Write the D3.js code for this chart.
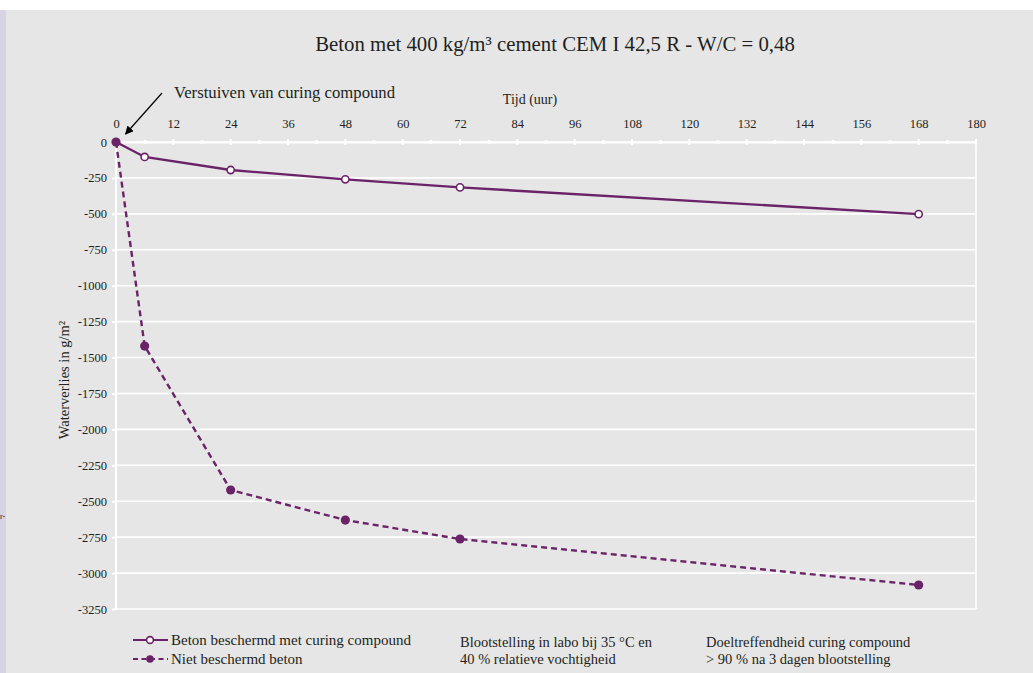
<!DOCTYPE html>
<html>
<head>
<meta charset="utf-8">
<script src="https://cdn.jsdelivr.net/npm/d3@7"></script>
<style>
  html, body { margin: 0; padding: 0; background: #ffffff; }
  svg { display: block; }
  text { font-family: "Liberation Serif", "DejaVu Serif", serif; fill: #231f20; }
</style>
</head>
<body>
<svg id="chart" width="1033" height="673"></svg>
<script>
// Hours after casting
const hours = [0, 6, 24, 48, 72, 168];
// Water loss (g/m²) — concrete protected with curing compound
const protectedLoss = [0, -104, -195, -260, -316, -502];
// Water loss (g/m²) — unprotected concrete
const unprotectedLoss = [0, -1420, -2422, -2631, -2763, -3083];

const xTicks = d3.range(0, 181, 12);
const xMinorTicks = d3.range(0, 181, 6);
const yTicks = d3.range(0, -3251, -250);

const titleText = "Beton met 400 kg/m³ cement CEM I 42,5 R - W/C = 0,48";
const xLabel = "Tijd (uur)";
const yLabel = "Waterverlies in g/m²";
const annotation = "Verstuiven van curing compound";
const seriesNames = ["Beton beschermd met curing compound", "Niet beschermd beton"];
const noteA = ["Blootstelling in labo bij 35 °C en", "40 % relatieve vochtigheid"];
const noteB = ["Doeltreffendheid curing compound", "> 90 % na 3 dagen blootstelling"];

const purple = "#6b2368";
const svg = d3.select("#chart");

// Page background: white top band, lavender edge strip, grey panel
svg.append("rect").attr("x", 0).attr("y", 10).attr("width", 1033).attr("height", 663).attr("fill", "#e6e6e6");
svg.append("rect").attr("x", 0).attr("y", 10).attr("width", 6).attr("height", 663).attr("fill", "#d8d3e4");
svg.append("text").attr("x", 0).attr("y", 519).attr("font-size", 8).text("r-");

const x = d3.scaleLinear().domain([0, 180]).range([116, 976]);
const y = d3.scaleLinear().domain([0, -3250]).range([142, 609]);

// Horizontal gridlines
svg.append("g").selectAll("line").data(yTicks).join("line")
  .attr("x1", x(0)).attr("x2", x(180))
  .attr("y1", d => y(d)).attr("y2", d => y(d))
  .attr("stroke", "#ffffff").attr("stroke-width", 1.6);

// Frame: left axis and right border
svg.append("line").attr("x1", x(0)).attr("x2", x(0)).attr("y1", y(0)).attr("y2", y(-3250))
  .attr("stroke", "#ffffff").attr("stroke-width", 2);
svg.append("line").attr("x1", x(180)).attr("x2", x(180)).attr("y1", y(0)).attr("y2", y(-3250))
  .attr("stroke", "#ffffff").attr("stroke-width", 1.6);

const plainNum = d => String(d);

// Top time axis
const xAxis = d3.axisTop(x).tickValues(xTicks).tickSize(0).tickPadding(14).tickFormat(plainNum);
const gx = svg.append("g").attr("transform", `translate(0,${y(0)})`).call(xAxis);
gx.select(".domain").attr("stroke", "#ffffff").attr("stroke-width", 2.2);
gx.selectAll("text").attr("font-size", 12.5).attr("fill", "#231f20")
  .attr("font-family", "Liberation Serif, serif");
svg.append("g").selectAll("line").data(xMinorTicks).join("line")
  .attr("x1", d => x(d)).attr("x2", d => x(d))
  .attr("y1", d => y(0) - (d % 12 === 0 ? 3 : 2)).attr("y2", d => y(0) + (d % 12 === 0 ? 3 : 2))
  .attr("stroke", "#ffffff").attr("stroke-width", 2);

// Left value axis
const yAxis = d3.axisLeft(y).tickValues(yTicks).tickSize(4).tickPadding(5).tickFormat(plainNum);
const gy = svg.append("g").attr("transform", `translate(${x(0)},0)`).call(yAxis);
gy.select(".domain").remove();
gy.selectAll(".tick line").attr("stroke", "#ffffff").attr("stroke-width", 2);
gy.selectAll("text").attr("font-size", 12.5).attr("fill", "#231f20")
  .attr("font-family", "Liberation Serif, serif");

// Titles and axis labels
svg.append("text").attr("x", 555).attr("y", 51).attr("text-anchor", "middle")
  .attr("font-size", 20.8).text(titleText);
svg.append("text").attr("x", 530).attr("y", 104).attr("text-anchor", "middle")
  .attr("font-size", 14).text(xLabel);
svg.append("text").attr("transform", "translate(69,380) rotate(-90)").attr("text-anchor", "middle")
  .attr("font-size", 14.5).text(yLabel);

// Annotation with arrow pointing at the spraying moment
svg.append("defs").append("marker").attr("id", "arrowHead")
  .attr("viewBox", "0 0 10 10").attr("refX", 9).attr("refY", 5)
  .attr("markerWidth", 7).attr("markerHeight", 7).attr("orient", "auto-start-reverse")
  .append("path").attr("d", "M0,0 L10,5 L0,10 z").attr("fill", "#000");
svg.append("line").attr("x1", 162).attr("y1", 93).attr("x2", x(2)).attr("y2", y(0) - 8)
  .attr("stroke", "#000").attr("stroke-width", 1.2).attr("marker-end", "url(#arrowHead)");
svg.append("text").attr("x", 174).attr("y", 98).attr("font-size", 16.7).text(annotation);

// Series lines
const line = d3.line().x(d => x(d[0])).y(d => y(d[1]));
const protectedPts = hours.map((h, i) => [h, protectedLoss[i]]);
const unprotectedPts = hours.map((h, i) => [h, unprotectedLoss[i]]);

svg.append("path").datum(protectedPts).attr("d", line)
  .attr("fill", "none").attr("stroke", purple).attr("stroke-width", 2.4);
svg.append("g").selectAll("circle").data(protectedPts.slice(1)).join("circle")
  .attr("cx", d => x(d[0])).attr("cy", d => y(d[1])).attr("r", 3.6)
  .attr("fill", "#ffffff").attr("stroke", purple).attr("stroke-width", 1.6);

svg.append("path").datum(unprotectedPts).attr("d", line)
  .attr("fill", "none").attr("stroke", purple).attr("stroke-width", 2.4)
  .attr("stroke-dasharray", "6,4");
svg.append("g").selectAll("circle").data(unprotectedPts).join("circle")
  .attr("cx", d => x(d[0])).attr("cy", d => y(d[1])).attr("r", 4.6)
  .attr("fill", purple);

// Legend
const lg = svg.append("g");
lg.append("line").attr("x1", 133).attr("x2", 168).attr("y1", 640).attr("y2", 640)
  .attr("stroke", purple).attr("stroke-width", 2);
lg.append("circle").attr("cx", 150).attr("cy", 640).attr("r", 3.4)
  .attr("fill", "#fff").attr("stroke", purple).attr("stroke-width", 1.6);
lg.append("text").attr("x", 171).attr("y", 645).attr("font-size", 15).text(seriesNames[0]);
lg.append("line").attr("x1", 133).attr("x2", 168).attr("y1", 659).attr("y2", 659)
  .attr("stroke", purple).attr("stroke-width", 2).attr("stroke-dasharray", "5,3.5");
lg.append("circle").attr("cx", 150).attr("cy", 659).attr("r", 3.8).attr("fill", purple);
lg.append("text").attr("x", 171).attr("y", 664).attr("font-size", 15).text(seriesNames[1]);

// Test condition notes
[[460, noteA], [706, noteB]].forEach(([nx, lines]) => {
  lines.forEach((t, i) => {
    svg.append("text").attr("x", nx).attr("y", 647 + i * 17).attr("font-size", 14.5).text(t);
  });
});
</script>
</body>
</html>
